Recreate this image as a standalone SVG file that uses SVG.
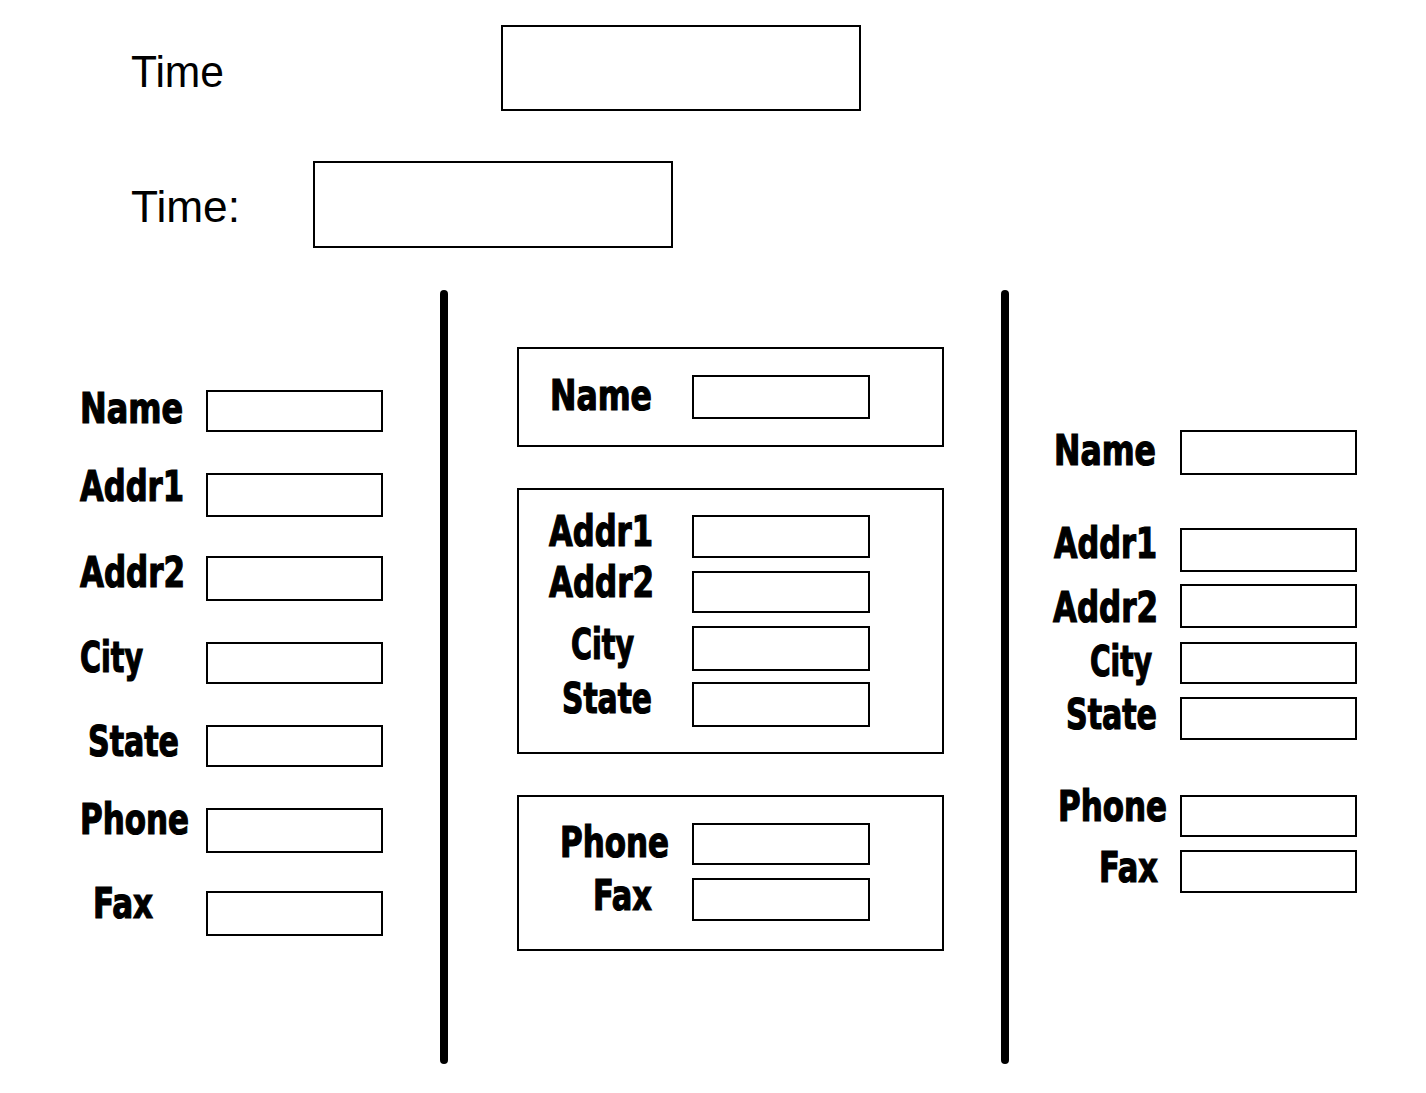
<svg xmlns="http://www.w3.org/2000/svg" width="1426" height="1093" viewBox="0 0 1426 1093">
<style>
.bg{fill:#fff}
.box{fill:#fff;stroke:#000;stroke-width:2}
.lbl{font-family:"DejaVu Sans Condensed","DejaVu Sans",sans-serif;font-weight:bold;font-size:42px;fill:#000;stroke:#000;stroke-width:1.2}
.reg{font-family:"Liberation Sans",Arial,sans-serif;font-size:45px;fill:#000}
.div{stroke:#000;stroke-width:8;stroke-linecap:round;fill:none}
</style>
<rect class="bg" x="0" y="0" width="1426" height="1093"/>

<g id="time1">
<text class="reg" x="131" y="87" textLength="93" lengthAdjust="spacingAndGlyphs">Time</text>
<rect class="box" x="502" y="26" width="358" height="84"/>
</g>
<g id="time2">
<text class="reg" x="131" y="222" textLength="109" lengthAdjust="spacingAndGlyphs">Time:</text>
<rect class="box" x="314" y="162" width="358" height="85"/>
</g>

<g id="connectors">
<line class="div" x1="444" y1="294" x2="444" y2="1060"/>
<line class="div" x1="1005" y1="294" x2="1005" y2="1060"/>
</g>

<g id="left-form">
<text class="lbl" x="80" y="423" textLength="103" lengthAdjust="spacingAndGlyphs">Name</text>
<rect class="box" x="207" y="391" width="175" height="40"/>
<text class="lbl" x="80" y="501" textLength="104" lengthAdjust="spacingAndGlyphs">Addr1</text>
<rect class="box" x="207" y="474" width="175" height="42"/>
<text class="lbl" x="80" y="587" textLength="105" lengthAdjust="spacingAndGlyphs">Addr2</text>
<rect class="box" x="207" y="557" width="175" height="43"/>
<text class="lbl" x="80" y="672" textLength="63" lengthAdjust="spacingAndGlyphs">City</text>
<rect class="box" x="207" y="643" width="175" height="40"/>
<text class="lbl" x="88" y="756" textLength="91" lengthAdjust="spacingAndGlyphs">State</text>
<rect class="box" x="207" y="726" width="175" height="40"/>
<text class="lbl" x="80" y="834" textLength="109" lengthAdjust="spacingAndGlyphs">Phone</text>
<rect class="box" x="207" y="809" width="175" height="43"/>
<text class="lbl" x="93" y="918" textLength="60" lengthAdjust="spacingAndGlyphs">Fax</text>
<rect class="box" x="207" y="892" width="175" height="43"/>
</g>

<g id="middle-name-group">
<rect class="box" x="518" y="348" width="425" height="98"/>
<text class="lbl" x="550" y="410" textLength="102" lengthAdjust="spacingAndGlyphs">Name</text>
<rect class="box" x="693" y="376" width="176" height="42"/>
</g>
<g id="middle-address-group">
<rect class="box" x="518" y="489" width="425" height="264"/>
<text class="lbl" x="549" y="546" textLength="104" lengthAdjust="spacingAndGlyphs">Addr1</text>
<rect class="box" x="693" y="516" width="176" height="41"/>
<text class="lbl" x="549" y="597" textLength="105" lengthAdjust="spacingAndGlyphs">Addr2</text>
<rect class="box" x="693" y="572" width="176" height="40"/>
<text class="lbl" x="571" y="659" textLength="63" lengthAdjust="spacingAndGlyphs">City</text>
<rect class="box" x="693" y="627" width="176" height="43"/>
<text class="lbl" x="562" y="713" textLength="90" lengthAdjust="spacingAndGlyphs">State</text>
<rect class="box" x="693" y="683" width="176" height="43"/>
</g>
<g id="middle-contact-group">
<rect class="box" x="518" y="796" width="425" height="154"/>
<text class="lbl" x="560" y="857" textLength="109" lengthAdjust="spacingAndGlyphs">Phone</text>
<rect class="box" x="693" y="824" width="176" height="40"/>
<text class="lbl" x="593" y="910" textLength="59" lengthAdjust="spacingAndGlyphs">Fax</text>
<rect class="box" x="693" y="879" width="176" height="41"/>
</g>

<g id="right-form">
<text class="lbl" x="1054" y="465" textLength="102" lengthAdjust="spacingAndGlyphs">Name</text>
<rect class="box" x="1181" y="431" width="175" height="43"/>
<text class="lbl" x="1054" y="558" textLength="103" lengthAdjust="spacingAndGlyphs">Addr1</text>
<rect class="box" x="1181" y="529" width="175" height="42"/>
<text class="lbl" x="1053" y="622" textLength="105" lengthAdjust="spacingAndGlyphs">Addr2</text>
<rect class="box" x="1181" y="585" width="175" height="42"/>
<text class="lbl" x="1090" y="676" textLength="62" lengthAdjust="spacingAndGlyphs">City</text>
<rect class="box" x="1181" y="643" width="175" height="40"/>
<text class="lbl" x="1066" y="729" textLength="91" lengthAdjust="spacingAndGlyphs">State</text>
<rect class="box" x="1181" y="698" width="175" height="41"/>
<text class="lbl" x="1058" y="821" textLength="109" lengthAdjust="spacingAndGlyphs">Phone</text>
<rect class="box" x="1181" y="796" width="175" height="40"/>
<text class="lbl" x="1099" y="882" textLength="59" lengthAdjust="spacingAndGlyphs">Fax</text>
<rect class="box" x="1181" y="851" width="175" height="41"/>
</g>
</svg>
